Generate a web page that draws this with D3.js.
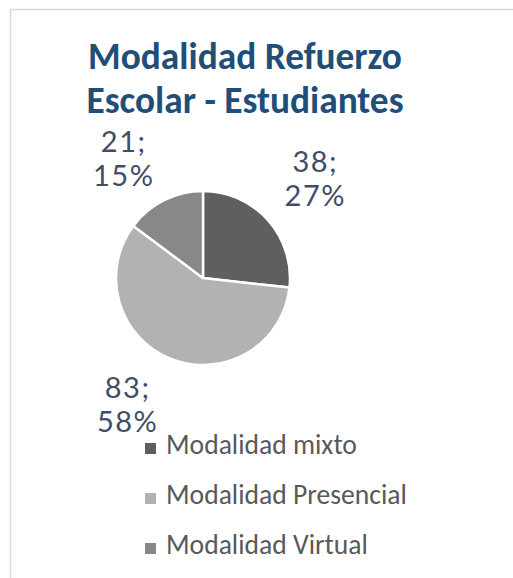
<!DOCTYPE html>
<html>
<head>
<meta charset="utf-8">
<script src="https://cdn.jsdelivr.net/npm/d3@7"></script>
<style>
  html, body { margin: 0; padding: 0; background: #fff; }
  svg { display: block; }
</style>
</head>
<body>
<svg id="chart" width="513" height="578"></svg>
<script>
// ---- data ----
const categories = ['Modalidad mixto', 'Modalidad Presencial', 'Modalidad Virtual'];
const values = [38, 83, 21];
const percents = ['27%', '58%', '15%'];
const colors = ['#5f5f5f', '#b2b2b2', '#888888'];
const titleLines = ['Modalidad Refuerzo', 'Escolar - Estudiantes'];

const svg = d3.select('#chart');
const W = 513, H = 578;

// frame (only top + left edges visible)
svg.append('rect')
  .attr('x', 10.5).attr('y', 9.5)
  .attr('width', W + 20).attr('height', H + 20)
  .attr('fill', '#fff').attr('stroke', '#d9d9d9').attr('stroke-width', 1.5);

// scale a text node so its width matches target
function fitWidth(sel, target) {
  const w = sel.node().getComputedTextLength();
  const fs = parseFloat(sel.attr('font-size'));
  sel.attr('font-size', fs * target / w);
}

// title
const titleFont = 'Carlito, "Open Sans", "Liberation Sans", sans-serif';
const t1 = svg.append('text')
  .attr('x', 245).attr('y', 69)
  .attr('text-anchor', 'middle')
  .attr('font-family', titleFont).attr('font-weight', 'bold')
  .attr('font-size', 30).attr('fill', '#1f4e79')
  .text(titleLines[0]);
fitWidth(t1, 314);
const fs1 = t1.attr('font-size');
svg.append('text')
  .attr('x', 245).attr('y', 113)
  .attr('text-anchor', 'middle')
  .attr('font-family', titleFont).attr('font-weight', 'bold')
  .attr('font-size', fs1).attr('fill', '#1f4e79')
  .text(titleLines[1]);

// pie
const cx = 203, cy = 278, R = 87;
const pie = d3.pie().sort(null).value(d => d);
const arcs = pie(values);
const arc = d3.arc().innerRadius(0).outerRadius(R);
const labelArc = d3.arc().innerRadius(148).outerRadius(148);

const g = svg.append('g').attr('transform', `translate(${cx},${cy})`);
g.selectAll('path.slice')
  .data(arcs)
  .join('path')
    .attr('class', 'slice')
    .attr('d', arc)
    .attr('fill', (d, i) => colors[i])
    .attr('stroke', '#fff')
    .attr('stroke-width', 2.5)
    .attr('stroke-linejoin', 'round');

// data labels (best-fit style nudges)
const nudge = { 'Modalidad mixto': [2, 0], 'Modalidad Presencial': [-21, -11], 'Modalidad Virtual': [-13, 13] };
const labelFont = 'Lato, "Open Sans", sans-serif';
arcs.forEach((d, i) => {
  const [lx, ly] = labelArc.centroid(d);
  const [nx, ny] = nudge[categories[i]];
  const x = lx + nx, y = ly + ny;
  const t = g.append('text')
    .attr('text-anchor', 'middle')
    .attr('font-family', labelFont)
    .attr('font-size', 29).attr('fill', '#3f4d66')
    .attr('letter-spacing', 1.5);
  t.append('tspan').attr('x', x).attr('y', y - 7).text(values[i] + ';');
  t.append('tspan').attr('x', x).attr('y', y + 27).text(percents[i]);
});

// legend
const legFont = 'Carlito, "Open Sans", "Liberation Sans", sans-serif';
const leg = svg.append('g').attr('class', 'legend');
const legY = d3.scalePoint().domain(categories).range([454, 554]);
let legFs = null;
categories.forEach((c, i) => {
  const y = legY(c);
  leg.append('rect')
    .attr('x', 145).attr('y', y - 11)
    .attr('width', 11).attr('height', 11)
    .attr('fill', colors[i]);
  const t = leg.append('text')
    .attr('x', 166).attr('y', y)
    .attr('font-family', legFont)
    .attr('font-size', legFs || 22).attr('fill', '#595959')
    .text(c);
  if (i === 0) { fitWidth(t, 191); legFs = t.attr('font-size'); }
});
</script>
</body>
</html>
